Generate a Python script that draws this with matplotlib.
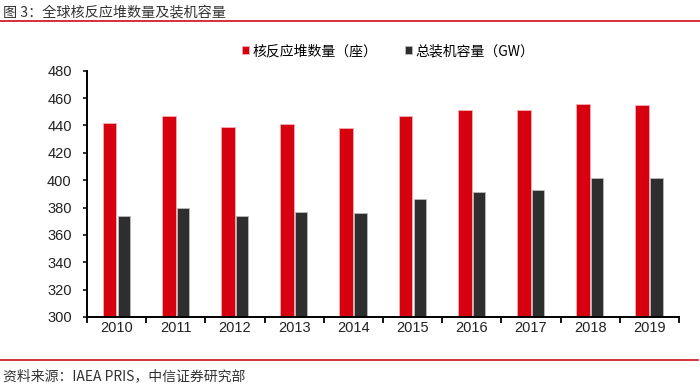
import matplotlib
matplotlib.use("Agg")
import matplotlib.pyplot as plt
import numpy as np

# data
years = ["2010", "2011", "2012", "2013", "2014", "2015", "2016", "2017", "2018", "2019"]
reactors = [442, 447, 439, 441, 438, 447, 451, 451, 456, 455]
capacity_gw = [374, 379.5, 374, 376.5, 376, 386, 391.5, 393, 401.5, 401.5]
series_names = ["核反应堆数量（座）", "总装机容量（GW）"]
yticks = [300, 320, 340, 360, 380, 400, 420, 440, 460, 480]

RED = "#D7000F"
DARK = "#2E2E2E"
CJK = ["Noto Sans CJK SC", "DejaVu Sans"]
plt.rcParams["font.family"] = ["Liberation Sans", "Noto Sans CJK SC", "DejaVu Sans"]

fig = plt.figure(figsize=(7.0, 3.87), dpi=100)
ax = fig.add_axes([0.1243, 0.1809, 0.8457, 0.6364])

x = np.arange(len(years))
ax.bar(x - 0.12, [v - 300 for v in reactors], bottom=300, width=0.235,
       color=RED, edgecolor="#F3B0B4", linewidth=0.6, label=series_names[0])
ax.bar(x + 0.12, [v - 300 for v in capacity_gw], bottom=300, width=0.205,
       color=DARK, edgecolor="#BBBBBB", linewidth=0.6, label=series_names[1])

ax.set_xlim(-0.5, len(years) - 0.5)
ax.set_ylim(300, 480)
ax.set_yticks(yticks)
ax.tick_params(axis="y", labelsize=10.5, length=3, width=1.3, direction="out", pad=8, colors="#222222")

# category labels centred, tick marks on the boundaries
ax.set_xticks(x)
ax.set_xticklabels(years, fontsize=10.5, color="#222222")
ax.tick_params(axis="x", which="major", length=0, pad=3)
ax.set_xticks(np.arange(-0.5, len(years)), minor=True)
ax.tick_params(axis="x", which="minor", length=4, width=1.3, direction="out")

for s in ["top", "right"]:
    ax.spines[s].set_visible(False)
for s in ["left", "bottom"]:
    ax.spines[s].set_linewidth(1.4)
    ax.spines[s].set_color("black")

handles, labels = ax.get_legend_handles_labels()
fig.legend(handles, labels, loc="center", bbox_to_anchor=(388.5 / 700, 0.868), ncol=2,
           frameon=False, handlelength=0.5, handleheight=0.5, handletextpad=0.25,
           columnspacing=2.0, borderpad=0, prop={"family": CJK, "size": 10})

# title and source with red rules
fig.text(0.004, 0.968, "图 3：全球核反应堆数量及装机容量", fontsize=10.2, family=CJK,
         color="#333333", va="center", ha="left")
fig.add_artist(plt.Line2D([0, 1], [0.947, 0.947], color="#D0202A", linewidth=1.3))
fig.add_artist(plt.Line2D([0, 0.997], [0.07, 0.07], color="#D0202A", linewidth=1.3))
fig.text(0.004, 0.028, "资料来源：IAEA PRIS，中信证券研究部", fontsize=10, family=CJK,
         color="#333333", va="center", ha="left")

fig.savefig("out.png", dpi=100)
